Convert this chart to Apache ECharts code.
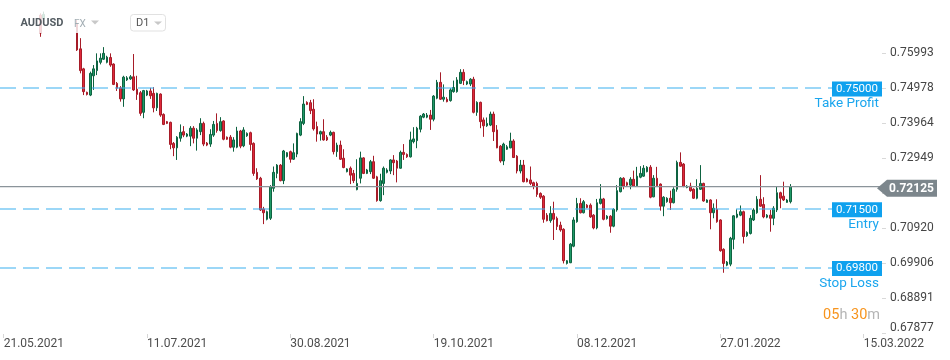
<!DOCTYPE html>
<html><head><meta charset="utf-8">
<script src="https://cdn.jsdelivr.net/npm/echarts@6/dist/echarts.min.js"></script>
<style>html,body{margin:0;padding:0;background:#fff}#c{width:950px;height:360px}</style>
</head><body><div id="c"></div>
<script>
const tickLabels = ['21.05.2021','11.07.2021','30.08.2021','19.10.2021','08.12.2021','27.01.2022','15.03.2022'];
const labelStep = 43;
const slotCount = 264;
const yTicks = [0.67877,0.68891,0.69906,0.70920,0.71935,0.72949,0.73964,0.74978,0.75993];
const levelValues = [0.75, 0.715, 0.698];
const levelTexts = ['0.75000','0.71500','0.69800'];
const levelNames = ['Take Profit','Entry','Stop Loss'];
const lastPrice = 0.72125;
const lastPriceText = '0.72125';

const opens = [
0.7780,0.7790,0.7788,0.7805,0.7800,0.7790,0.7780,0.7785,0.7787,0.7795,0.7810,0.7710,0.7700,0.7765,0.7775,0.7785,0.7780,0.7772,0.7770,0.7778,0.7790,0.7785,
0.7684,0.7612,0.7554,0.7486,0.7478,0.7534,0.7549,0.7573,0.7582,0.7573,
0.7587,0.7568,0.7512,0.7499,0.7467,0.7522,0.7525,0.7531,0.7495,0.7485,
0.7428,0.7478,0.7490,0.7483,0.7441,0.7481,0.7422,0.7401,0.7399,0.7338,
0.7325,0.7353,0.7372,0.7359,0.7359,0.7382,0.7353,0.7372,0.7396,0.7339,
0.7336,0.7362,0.7396,0.7375,0.7403,0.7356,0.7356,0.7327,0.7327,0.7374,
0.7331,0.7360,0.7369,0.7338,0.7254,0.7237,0.7148,0.7118,0.7121,0.7208,
0.7251,0.7275,0.7230,0.7300,0.7314,0.7292,0.7307,0.7362,0.7396,0.7457,
0.7456,0.7437,0.7387,0.7365,0.7372,0.7356,0.7362,0.7370,0.7314,0.7333,
0.7295,0.7256,0.7266,0.7251,0.7204,0.7237,0.7296,0.7251,0.7256,0.7285,
0.7241,0.7172,0.7222,0.7254,0.7258,0.7290,0.7287,0.7266,0.7312,0.7306,
0.7299,0.7343,0.7346,0.7379,0.7414,0.7414,0.7420,0.7408,0.7469,0.7515,
0.7466,0.7466,0.7462,0.7488,0.7488,0.7512,0.7544,0.7510,0.7510,0.7524,
0.7428,0.7457,0.7406,0.7389,0.7391,0.7423,0.7377,0.7330,0.7287,0.7321,
0.7325,0.7345,0.7301,0.7258,0.7275,0.7235,0.7232,0.7224,0.7222,0.7193,
0.7185,0.7130,0.7114,0.7135,0.7121,0.7101,0.7089,0.6990,0.6992,0.7040,
0.7111,0.7164,0.7137,0.7159,0.7159,0.7130,0.7093,0.7164,0.7177,0.7120,
0.7127,0.7098,0.7145,0.7198,0.7237,0.7224,0.7217,0.7234,0.7215,0.7240,
0.7243,0.7256,0.7269,0.7183,0.7237,0.7220,0.7156,0.7169,0.7179,0.7166,
0.7205,0.7283,0.7278,0.7210,0.7214,0.7205,0.7179,0.7205,0.7222,0.7167,
0.7174,0.7137,0.7147,0.7116,0.7031,0.6985,0.6988,0.7060,0.7124,0.7130,
0.7140,0.7070,0.7077,0.7116,0.7137,0.7176,0.7161,0.7124,0.7130,0.7121,
0.7145,0.7195,0.7185,0.7167,0.7169
];
const closes = [
0.7790,0.7788,0.7805,0.7800,0.7790,0.7780,0.7785,0.7787,0.7795,0.7810,0.7765,0.7658,0.7712,0.7775,0.7785,0.7780,0.7772,0.7770,0.7778,0.7790,0.7785,0.7775,
0.7609,0.7549,0.7488,0.7480,0.7541,0.7554,0.7577,0.7585,0.7599,0.7588,
0.7565,0.7509,0.7498,0.7467,0.7530,0.7528,0.7531,0.7493,0.7480,0.7425,
0.7491,0.7490,0.7476,0.7441,0.7483,0.7420,0.7393,0.7396,0.7335,0.7325,
0.7356,0.7370,0.7362,0.7365,0.7382,0.7353,0.7377,0.7396,0.7336,0.7333,
0.7364,0.7393,0.7375,0.7401,0.7350,0.7350,0.7327,0.7348,0.7374,0.7330,
0.7377,0.7367,0.7335,0.7251,0.7235,0.7145,0.7137,0.7140,0.7212,0.7254,
0.7275,0.7230,0.7316,0.7311,0.7292,0.7311,0.7367,0.7401,0.7452,0.7451,
0.7433,0.7380,0.7365,0.7372,0.7348,0.7348,0.7370,0.7314,0.7333,0.7292,
0.7268,0.7264,0.7246,0.7230,0.7222,0.7296,0.7251,0.7261,0.7285,0.7237,
0.7172,0.7230,0.7266,0.7261,0.7290,0.7282,0.7266,0.7312,0.7306,0.7299,
0.7348,0.7351,0.7382,0.7417,0.7423,0.7420,0.7408,0.7475,0.7515,0.7466,
0.7472,0.7459,0.7493,0.7500,0.7522,0.7544,0.7520,0.7517,0.7524,0.7428,
0.7457,0.7401,0.7389,0.7396,0.7423,0.7372,0.7325,0.7287,0.7336,0.7328,
0.7345,0.7297,0.7258,0.7275,0.7227,0.7227,0.7222,0.7214,0.7190,0.7182,
0.7118,0.7114,0.7135,0.7118,0.7097,0.7087,0.6998,0.6998,0.7046,0.7116,
0.7164,0.7137,0.7169,0.7152,0.7125,0.7093,0.7166,0.7177,0.7118,0.7127,
0.7098,0.7147,0.7201,0.7237,0.7214,0.7217,0.7234,0.7214,0.7243,0.7251,
0.7266,0.7269,0.7182,0.7237,0.7215,0.7156,0.7182,0.7179,0.7166,0.7205,
0.7283,0.7272,0.7213,0.7214,0.7201,0.7179,0.7208,0.7222,0.7171,0.7174,
0.7137,0.7150,0.7111,0.7027,0.6990,0.6994,0.7063,0.7128,0.7133,0.7140,
0.7068,0.7080,0.7121,0.7145,0.7176,0.7156,0.7125,0.7130,0.7121,0.7150,
0.7195,0.7179,0.7174,0.7174,0.72125
];
const lows = [
0.7765,0.7782,0.7772,0.7782,0.7768,0.7762,0.7766,0.7780,0.7770,0.7785,0.7760,0.7647,0.7696,0.7760,0.7765,0.7770,0.7762,0.7766,0.7762,0.7770,0.7775,0.7762,
0.7606,0.7541,0.7478,0.7477,0.7475,0.7493,0.7536,0.7567,0.7580,0.7570,
0.7560,0.7507,0.7490,0.7459,0.7444,0.7519,0.7522,0.7490,0.7464,0.7418,
0.7411,0.7475,0.7467,0.7428,0.7432,0.7415,0.7391,0.7394,0.7321,0.7301,
0.7290,0.7343,0.7356,0.7356,0.7330,0.7338,0.7317,0.7362,0.7330,0.7330,
0.7328,0.7357,0.7369,0.7372,0.7347,0.7348,0.7324,0.7314,0.7324,0.7324,
0.7327,0.7357,0.7317,0.7244,0.7232,0.7142,0.7104,0.7115,0.7116,0.7198,
0.7237,0.7228,0.7220,0.7297,0.7282,0.7290,0.7298,0.7359,0.7391,0.7449,
0.7423,0.7375,0.7343,0.7346,0.7346,0.7345,0.7359,0.7306,0.7299,0.7290,
0.7266,0.7254,0.7220,0.7223,0.7202,0.7222,0.7249,0.7249,0.7249,0.7235,
0.7169,0.7169,0.7188,0.7251,0.7249,0.7246,0.7225,0.7265,0.7290,0.7296,
0.7297,0.7338,0.7324,0.7370,0.7411,0.7411,0.7377,0.7402,0.7466,0.7464,
0.7459,0.7457,0.7459,0.7485,0.7485,0.7510,0.7507,0.7507,0.7504,0.7425,
0.7418,0.7382,0.7357,0.7386,0.7388,0.7345,0.7324,0.7282,0.7275,0.7319,
0.7324,0.7296,0.7251,0.7251,0.7225,0.7225,0.7217,0.7205,0.7183,0.7177,
0.7108,0.7112,0.7108,0.7058,0.7087,0.7082,0.6990,0.6987,0.6991,0.7037,
0.7108,0.7135,0.7135,0.7150,0.7122,0.7089,0.7089,0.7161,0.7115,0.7117,
0.7079,0.7095,0.7140,0.7196,0.7205,0.7214,0.7205,0.7212,0.7212,0.7237,
0.7241,0.7254,0.7179,0.7182,0.7212,0.7143,0.7127,0.7166,0.7145,0.7164,
0.7198,0.7270,0.7211,0.7208,0.7198,0.7177,0.7176,0.7203,0.7169,0.7166,
0.7089,0.7121,0.7108,0.7024,0.6963,0.6982,0.6982,0.7031,0.7121,0.7127,
0.7048,0.7067,0.7074,0.7113,0.7134,0.7154,0.7121,0.7121,0.7082,0.7101,
0.7139,0.7150,0.7171,0.7166,0.7164
];
const highs = [
0.7805,0.7795,0.7815,0.7830,0.7815,0.7800,0.7798,0.7792,0.7810,0.7825,0.7815,0.7715,0.7720,0.7790,0.7795,0.7800,0.7790,0.7776,0.7788,0.7800,0.7798,0.7795,
0.7696,0.7643,0.7557,0.7488,0.7546,0.7565,0.7599,0.7599,0.7617,0.7592,
0.7599,0.7570,0.7516,0.7504,0.7534,0.7533,0.7536,0.7597,0.7534,0.7490,
0.7493,0.7493,0.7499,0.7501,0.7485,0.7483,0.7425,0.7403,0.7401,0.7342,
0.7359,0.7393,0.7388,0.7368,0.7388,0.7388,0.7382,0.7411,0.7401,0.7342,
0.7379,0.7403,0.7425,0.7414,0.7405,0.7358,0.7362,0.7356,0.7386,0.7377,
0.7385,0.7370,0.7372,0.7341,0.7266,0.7241,0.7154,0.7143,0.7217,0.7271,
0.7278,0.7278,0.7319,0.7313,0.7317,0.7338,0.7369,0.7411,0.7475,0.7460,
0.7464,0.7466,0.7401,0.7375,0.7408,0.7362,0.7375,0.7372,0.7340,0.7346,
0.7321,0.7266,0.7271,0.7261,0.7292,0.7314,0.7298,0.7264,0.7290,0.7302,
0.7244,0.7250,0.7271,0.7266,0.7292,0.7304,0.7290,0.7317,0.7336,0.7309,
0.7372,0.7385,0.7386,0.7420,0.7426,0.7426,0.7435,0.7478,0.7522,0.7544,
0.7509,0.7472,0.7498,0.7520,0.7530,0.7553,0.7553,0.7520,0.7527,0.7531,
0.7460,0.7459,0.7413,0.7413,0.7430,0.7430,0.7391,0.7333,0.7340,0.7333,
0.7369,0.7350,0.7304,0.7290,0.7290,0.7238,0.7271,0.7227,0.7227,0.7196,
0.7188,0.7136,0.7156,0.7169,0.7126,0.7111,0.7092,0.7000,0.7049,0.7124,
0.7180,0.7179,0.7174,0.7162,0.7164,0.7133,0.7177,0.7220,0.7180,0.7130,
0.7130,0.7150,0.7217,0.7240,0.7240,0.7227,0.7240,0.7259,0.7270,0.7272,
0.7275,0.7272,0.7275,0.7246,0.7270,0.7222,0.7185,0.7182,0.7201,0.7211,
0.7288,0.7312,0.7281,0.7217,0.7224,0.7208,0.7234,0.7275,0.7224,0.7176,
0.7176,0.7164,0.7176,0.7118,0.7034,0.6997,0.7067,0.7130,0.7147,0.7158,
0.7143,0.7083,0.7130,0.7150,0.7185,0.7246,0.7182,0.7133,0.7145,0.7156,
0.7212,0.7198,0.7227,0.7177,0.7220
];

const yMax = 0.775362;
const yMin = 0.678551;
const FONT = 'Roboto, "Noto Sans", sans-serif';

const categories = Array.from({length: slotCount}, (_, i) => String(i));
const candles = opens.map((o, i) => [o, closes[i], lows[i], highs[i]]);
const isLabel = (i) => i % labelStep === 0;

const chart = echarts.init(document.getElementById('c'), null, {renderer: 'canvas'});
chart.setOption({
  animation: false,
  backgroundColor: '#ffffff',
  grid: {left: 2, right: 68, top: 0, bottom: 26},
  xAxis: {
    type: 'category', data: categories, boundaryGap: true,
    axisLine: {show: false},
    axisTick: {show: true, alignWithLabel: true, interval: isLabel, length: 4, lineStyle: {color: '#d6d6d6'}},
    axisLabel: {interval: isLabel, formatter: (v, i) => tickLabels[i / labelStep] || '', align: 'left',
      color: '#4d4d4d', fontFamily: FONT, fontSize: 12, margin: 4},
    splitLine: {show: false}
  },
  yAxis: {
    type: 'value', position: 'right', min: yMin, max: yMax,
    axisLine: {show: false},
    axisTick: {show: true, customValues: yTicks, length: 4, lineStyle: {color: '#d9d9d9'}},
    axisLabel: {customValues: yTicks, margin: 8, color: '#454545', fontFamily: FONT, fontSize: 12,
      formatter: (v) => {
        const s = Number(v).toFixed(5);
        return Math.abs(v - yTicks[0]) < 1e-9 ? '{low|' + s + '}' : s;
      },
      rich: {low: {padding: [0, 0, 10, 0], color: '#454545', fontFamily: FONT, fontSize: 12}}
    },
    splitLine: {show: false}
  },
  series: [
    {
      type: 'candlestick', data: candles, barWidth: 2.3,
      itemStyle: {color: '#1f9a67', color0: '#e0283a', borderColor: '#0e6341', borderColor0: '#a61c28', borderWidth: 1}
    }
  ]
});

const yOf = v => chart.convertToPixel({yAxisIndex: 0}, v);
const gridRight = 950 - 68;
const g = [];
// level lines (positions from the y scale)
levelValues.forEach((v) => {
  const y = Math.round(yOf(v)) + 1;
  g.push({type: 'line', z: 50, silent: true, shape: {x1: 0, y1: y, x2: gridRight, y2: y},
    style: {stroke: '#3aaff0', lineWidth: 1.2, lineDash: [16, 7]}});
});
{
  const y = yOf(lastPrice);
  g.push({type: 'line', z: 50, silent: true, shape: {x1: 0, y1: y, x2: gridRight, y2: y},
    style: {stroke: '#8b949a', lineWidth: 1.3}});
}
g.push({type: 'rect', silent: true, z: 100, shape: {x: 0, y: 0, width: 180, height: 33}, style: {fill: 'rgba(255,255,255,0.82)'}});
levelValues.forEach((v, i) => {
  const y = yOf(v);
  g.push({type: 'rect', z: 110, shape: {x: gridRight - 50, y: y - 6, width: 50, height: 15}, style: {fill: '#0fa1ee'}});
  g.push({type: 'text', z: 111, x: gridRight - 25, y: y + 1.5,
    style: {text: levelTexts[i], fill: '#ffffff', font: '11.5px ' + FONT, textAlign: 'center', textVerticalAlign: 'middle', align: 'center', verticalAlign: 'middle'}});
  g.push({type: 'text', z: 111, x: gridRight - 3, y: y + 16.5,
    style: {text: levelNames[i], fill: '#1ba6ee', font: '13.5px ' + FONT, textAlign: 'right', textVerticalAlign: 'middle', align: 'right', verticalAlign: 'middle'}});
});
const py = yOf(lastPrice) + 1.5;
g.push({type: 'polygon', z: 110, shape: {points: [[877, py], [887, py - 8.5], [937, py - 8.5], [937, py + 8.5], [887, py + 8.5]]}, style: {fill: '#7c868c'}});
g.push({type: 'text', z: 111, x: 911.5, y: py + 0.5,
  style: {text: lastPriceText, fill: '#ffffff', font: 'bold 12px ' + FONT, textAlign: 'center', textVerticalAlign: 'middle', align: 'center', verticalAlign: 'middle'}});
g.push({type: 'text', z: 111, x: 880, y: 315,
  style: {text: '{o|05}{g|h} {o|30}{g|m}', font: '14.5px ' + FONT, textAlign: 'right', textVerticalAlign: 'middle', align: 'right', verticalAlign: 'middle',
    rich: {o: {fill: '#f7941d', fontSize: 14.5, fontFamily: FONT}, g: {fill: '#b5b5b5', fontSize: 14.5, fontFamily: FONT}}}});
// header
g.push({type: 'text', z: 120, x: 20.5, y: 23, style: {text: 'AUDUSD', fill: '#545c62', font: 'bold 11px ' + FONT, textAlign: 'left', textVerticalAlign: 'middle', align: 'left', verticalAlign: 'middle'}});
g.push({type: 'text', z: 120, x: 74, y: 24, style: {text: 'FX', fill: '#a3aeb4', font: '10px ' + FONT, textAlign: 'left', textVerticalAlign: 'middle', align: 'left', verticalAlign: 'middle'}});
g.push({type: 'polygon', z: 120, shape: {points: [[91, 20.5], [99, 20.5], [95, 24.5]]}, style: {fill: '#c8c8c8'}});
g.push({type: 'rect', z: 120, shape: {x: 130.5, y: 14.5, width: 35, height: 16.5, r: 3}, style: {fill: '#ffffff', stroke: '#e1e1e1', lineWidth: 1}});
g.push({type: 'text', z: 121, x: 136, y: 23, style: {text: 'D1', fill: '#555555', font: '11px ' + FONT, textAlign: 'left', textVerticalAlign: 'middle', align: 'left', verticalAlign: 'middle'}});
g.push({type: 'polygon', z: 121, shape: {points: [[154, 21.5], [162, 21.5], [158, 25]]}, style: {fill: '#c8c8c8'}});
chart.setOption({graphic: g});
</script>
</body></html>
